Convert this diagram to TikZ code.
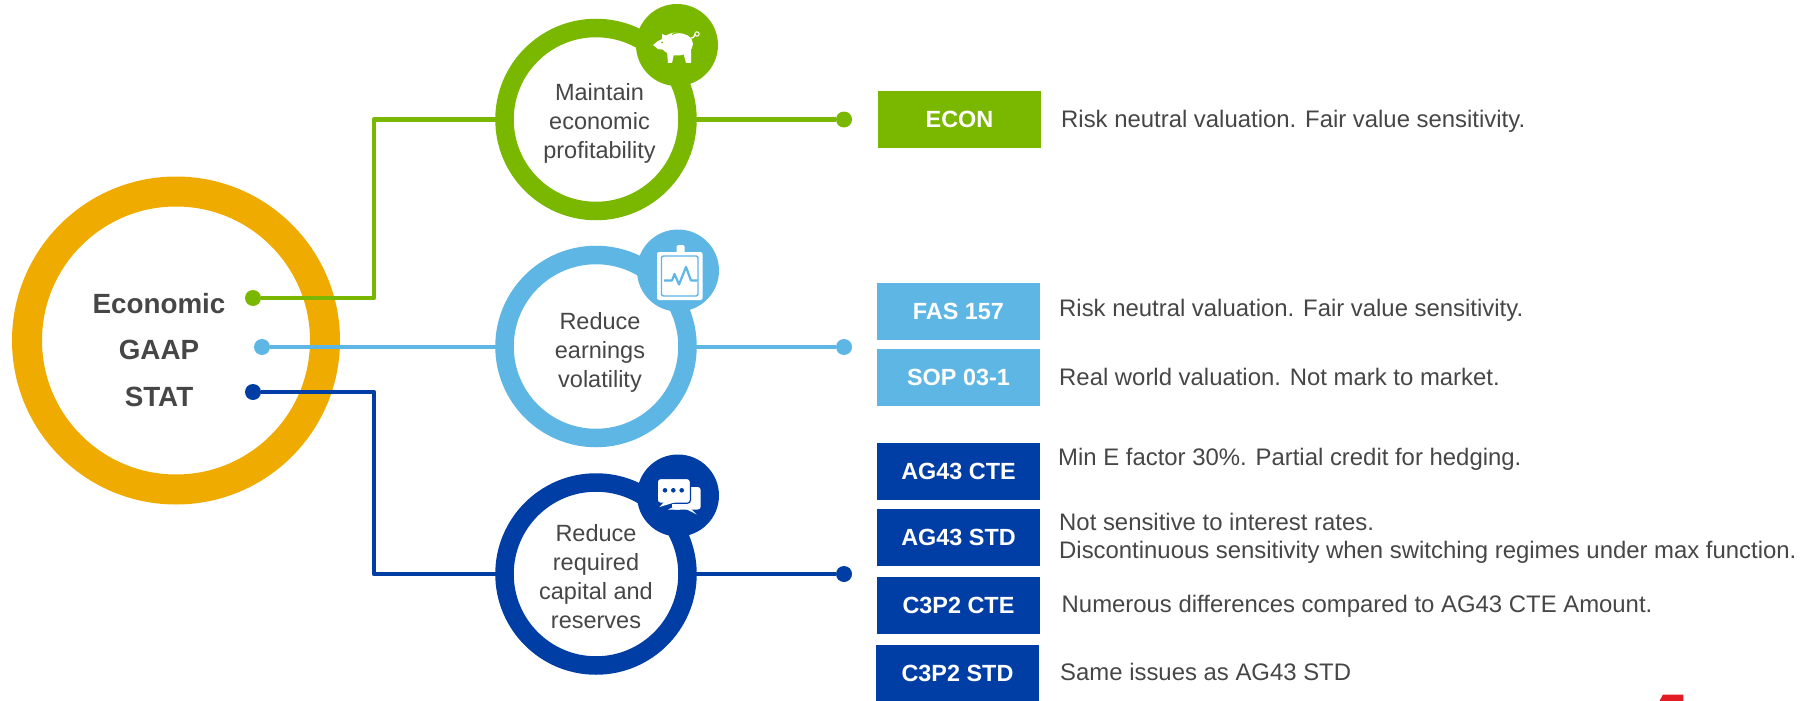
\documentclass[tikz,border=0pt]{standalone}
\usepackage{fontspec}
\setmainfont{Liberation Sans}
\usetikzlibrary{calc, positioning}

\definecolor{econgreen}{HTML}{7AB800}
\definecolor{gaapblue}{HTML}{5EB6E4}
\definecolor{statnavy}{HTML}{003DA5}
\definecolor{ringorange}{HTML}{F0AB00}
\definecolor{inkgrey}{HTML}{464646}
\definecolor{logored}{HTML}{E31B23}

\tikzset{
  ring/.style = {draw = #1, circle, fill = white, line width = 18.5pt, inner sep = 0pt, outer sep = 0pt, minimum size = 183pt},
  badge/.style = {circle, fill = #1, inner sep = 0pt, outer sep = 0pt, minimum size = 82pt},
  goaltext/.style = {text = inkgrey, align = center, inner sep = 0pt, font = \fontsize{23.5}{29}\selectfont},
  basis/.style = {text = inkgrey, align = center, inner sep = 0pt, font = \fontsize{27.8}{30}\selectfont\bfseries},
  dot/.style = {circle, fill = #1, inner sep = 0pt, outer sep = 0pt, minimum size = 16pt},
  wire/.style = {draw = #1, line width = 4.5pt, line join = round},
  tag/.style = {fill = #1, text = white, inner sep = 0pt, outer sep = 0pt, minimum width = 163pt, minimum height = 57pt, font = \fontsize{23.4}{28}\selectfont\bfseries},
  note/.style = {text = inkgrey, align = left, anchor = west, inner sep = 0pt, font = \fontsize{23.9}{28}\selectfont},
  noteline/.style = {note, text height = 17pt, text depth = 0pt}
}

\begin{document}
\begin{tikzpicture}[x = 1pt, y = -1pt]

\useasboundingbox (0,0) rectangle (1816,701);

\node[draw = ringorange, circle, line width = 30pt, inner sep = 0pt, outer sep = 0pt, minimum size = 298pt] (basisring) at (176,340.5) {};

\node[basis] (economic) at (159,304) {Economic};
\node[basis] (gaap) at (159,350) {GAAP};
\node[basis] (stat) at (159,397) {STAT};

\node[ring = econgreen] (goal1) at (596,119.5) {};
\node[ring = gaapblue] (goal2) at (596,346.5) {};
\node[ring = statnavy] (goal3) at (596,574) {};

\node[badge = econgreen] (badge1) at (677,45) {};
\node[badge = gaapblue] (badge2) at (678,270.5) {};
\node[badge = statnavy] (badge3) at (678,495.5) {};

\node[goaltext, xshift = 3.5pt, yshift = -3.5pt] (goaltext1) at (goal1) {Maintain\\economic\\profitability};
\node[goaltext, xshift = 4pt, yshift = -6pt] (goaltext2) at (goal2) {Reduce\\earnings\\volatility};
\node[goaltext, yshift = -3pt] (goaltext3) at (goal3) {Reduce\\required\\capital and\\reserves};

\node[dot = econgreen] (in1) at (253,298) {};
\node[dot = gaapblue] (in2) at (262,347) {};
\node[dot = statnavy] (in3) at (253,392) {};

\node[dot = econgreen] (out1) at (844,119.5) {};
\node[dot = gaapblue] (out2) at (844,347) {};
\node[dot = statnavy] (out3) at (844,574) {};

\coordinate (elbow1) at (374,119.5);
\coordinate (elbow3) at (374,574);

\draw[wire = econgreen] (in1) -| (elbow1) -- (goal1);
\draw[wire = gaapblue] (in2) -- (in2 -| goal2.west);
\draw[wire = statnavy] (in3) -| (elbow3) -- (goal3);

\draw[wire = econgreen] (goal1) -- (out1);
\draw[wire = gaapblue] (goal2.east |- out2) -- (out2);
\draw[wire = statnavy] (goal3) -- (out3);

% tags
\node[tag = econgreen] (econ) at (959.5,119.5) {ECON};

\node[tag = gaapblue] (fas) at (958.5,311) {FAS 157};
\node[tag = gaapblue, below = 9pt of fas] (sop) {SOP 03-1};

\node[tag = statnavy] (ag43cte) at (958.5,471) {AG43 CTE};
\node[tag = statnavy, below = 9pt of ag43cte] (ag43std) {AG43 STD};
\node[tag = statnavy, below = 11pt of ag43std] (c3p2cte) {C3P2 CTE};
\node[tag = statnavy, below = 11pt of c3p2cte, xshift = -1pt] (c3p2std) {C3P2 STD};

\node[noteline, right = 20pt of econ] (noteecon) {Risk neutral valuation. Fair value sensitivity.};
\node[noteline, right = 19pt of fas, yshift = 3.5pt] (notefas) {Risk neutral valuation. Fair value sensitivity.};
\node[noteline, right = 19pt of sop] (notesop) {Real world valuation. Not mark to market.};
\node[noteline, right = 18pt of ag43cte, yshift = 14.5pt] (noteagcte) {Min E factor 30\%. Partial credit for hedging.};
\node[note, right = 19pt of ag43std, yshift = -1.5pt] (noteagstd) {Not sensitive to interest rates.\\Discontinuous sensitivity when switching regimes under max function.};
\node[noteline, right = 21.5pt of c3p2cte, yshift = 1.5pt] (notecpcte) {Numerous differences compared to AG43 CTE Amount.};
\node[noteline, right = 21pt of c3p2std, yshift = 1.5pt] (notecpstd) {Same issues as AG43 STD};

% piggy bank
\fill[white] (677,44) ellipse [x radius = 16, y radius = 11.5];
\fill[white] (653,45) -- (658,41) -- (662,39) -- (662,34) -- (667,36) -- (672,40) -- (672,52) -- (665,50) -- (658,49) -- cycle;
\fill[white] (667,52) -- (674,54) -- (672,63) -- (668,63) -- cycle;
\fill[white] (683,52) -- (691,50) -- (691,63) -- (686,63) -- cycle;
\draw[white, line width = 1.3pt] (691,38) .. controls (695,38) and (694,35) .. (695,34);
\draw[white, line width = 1pt] (697,34) circle [radius = 2.2];
\draw[econgreen, line width = 1pt] (672,34.5) .. controls (676,32) and (683,32) .. (687,34.5);
\fill[econgreen] (662,42.5) circle [radius = 1];

% clipboard
\fill[white, rounded corners = 1.5pt] (676.5,245) rectangle (684.5,254);
\fill[white, rounded corners = 2pt] (657,252) rectangle (702.5,300);
\draw[gaapblue, line width = 1.4pt, rounded corners = 2pt] (661.5,256) rectangle (698,296);
\draw[gaapblue, line width = 2.2pt, line join = round] (664,280.5) -- (672,280.5) -- (674.5,274) -- (679,284.5) -- (686,267) -- (691,280.5) -- (697.5,280.5);

% speech bubbles
\fill[white, rounded corners = 3pt] (672,487) rectangle (700.7,509.5);
\fill[white] (684,508) -- (696.7,514.5) -- (690,508) -- cycle;
\fill[white] (668,509.5) -- (678,505) -- (680,509.5) -- cycle;
\draw[statnavy, fill = white, line width = 1.2pt, rounded corners = 3pt] (657.3,478.6) rectangle (690.4,503.2);
\fill[white] (664,502) -- (659.5,507) -- (676,502) -- cycle;
\fill[statnavy] (665,490.3) circle [radius = 2.3];
\fill[statnavy] (673.3,490.3) circle [radius = 2.3];
\fill[statnavy] (681.7,490.3) circle [radius = 2.3];

\fill[logored] (1659,702) -- (1663,694.5) -- (1683.3,694.5) -- (1683.3,702) -- cycle;

\end{tikzpicture}
\end{document}
